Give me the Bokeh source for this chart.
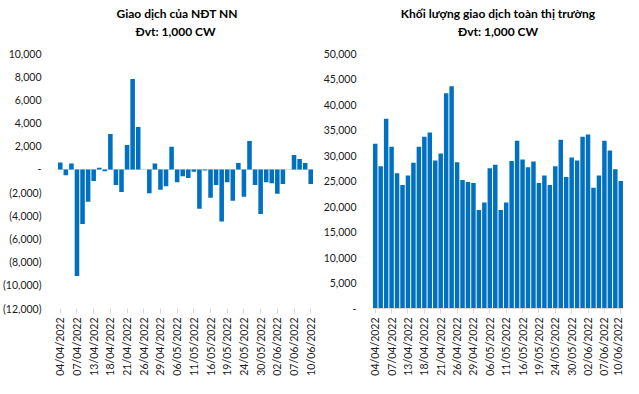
import math
from bokeh.plotting import figure
from bokeh.layouts import row
from bokeh.models import Range1d, FixedTicker, Span, Title, ColumnDataSource
from bokeh.embed import file_html
from bokeh.resources import INLINE

# ---- data -------------------------------------------------------------
dates = [
    "04/04/2022", "05/04/2022", "06/04/2022", "07/04/2022", "08/04/2022",
    "12/04/2022", "13/04/2022", "14/04/2022", "15/04/2022", "18/04/2022",
    "19/04/2022", "20/04/2022", "21/04/2022", "22/04/2022", "25/04/2022",
    "26/04/2022", "27/04/2022", "28/04/2022", "29/04/2022", "04/05/2022",
    "05/05/2022", "06/05/2022", "09/05/2022", "10/05/2022", "11/05/2022",
    "12/05/2022", "13/05/2022", "16/05/2022", "17/05/2022", "18/05/2022",
    "19/05/2022", "20/05/2022", "23/05/2022", "24/05/2022", "25/05/2022",
    "26/05/2022", "30/05/2022", "31/05/2022", "01/06/2022", "02/06/2022",
    "03/06/2022", "06/06/2022", "07/06/2022", "08/06/2022", "09/06/2022",
    "10/06/2022",
]

# Foreign investors' net trading (1,000 CW)
foreign_net = [
    600, -500, 500, -9200, -4700, -2800, -1000, 150, -150, 3050,
    -1350, -1950, 2100, 7800, 3650, 0, -2050, 500, -1750, -1450,
    1950, -1100, -600, -750, -200, -3400, -100, -2450, -1350, -4500,
    -1100, -2700, 550, -2350, 2450, -1350, -3850, -1100, -1200, -2100,
    -1250, 0, 1250, 900, 550, -1250,
]

# Whole-market trading volume (1,000 CW)
market_volume = [
    32300, 27900, 37200, 31700, 26500, 24200, 26100, 28600, 31700, 33700,
    34500, 29000, 30400, 42200, 43600, 28700, 25200, 24800, 24600, 19300,
    20800, 27500, 28200, 19300, 20800, 28900, 32900, 29200, 27700, 28800,
    24600, 26100, 24200, 27900, 33100, 25800, 29600, 29000, 33700, 34100,
    23700, 26100, 32900, 31000, 27300, 25000,
]

left_title = ["Giao dịch của NĐT NN", "Đvt: 1,000 CW"]
right_title = ["Khối lượng giao dịch toàn thị trường", "Đvt: 1,000 CW"]
left_yticks = list(range(-12000, 10001, 2000))
right_yticks = list(range(0, 50001, 5000))
label_step = 3

# ---- styling ----------------------------------------------------------
BAR = "#0070C0"
FONT = "Lato"
TICK_SIZE = "10.5px"
TITLE_SIZE = "12px"


def acct(v):
    if v == 0:
        return "-"
    if v < 0:
        return "({:,})".format(-v)
    return "{:,}".format(v)


idx = list(range(len(dates)))
xticks = idx[::label_step]
xlabels = {i: dates[i] for i in xticks}


def make(values, yr, yticks, title, width, mb_left, mb_right, talign, zero_axis):
    p = figure(width=width, height=378,
               x_range=Range1d(-0.5, len(dates) - 0.5), y_range=Range1d(*yr),
               output_backend="svg", toolbar_location=None,
               min_border_left=mb_left, min_border_right=mb_right,
               min_border_top=53, min_border_bottom=67)
    p.outline_line_color = None
    p.xgrid.visible = False
    p.ygrid.visible = False
    p.title.visible = False
    src = ColumnDataSource(dict(x=idx, v=values))
    p.vbar(x="x", top="v", bottom=0, width=0.82, source=src,
           fill_color=BAR, line_color=None)

    ya = p.yaxis[0]
    ya.ticker = FixedTicker(ticks=yticks)
    ya.major_label_overrides = {t: acct(t) for t in yticks}
    ya.axis_line_color = None
    ya.major_tick_line_color = None
    ya.minor_tick_line_color = None
    ya.major_label_standoff = 10
    ya.major_label_text_font = FONT
    ya.major_label_text_font_size = TICK_SIZE
    ya.major_label_text_color = "#1a1a1a"

    xa = p.xaxis[0]
    xa.ticker = FixedTicker(ticks=xticks)
    xa.major_label_overrides = xlabels
    xa.major_label_orientation = math.pi / 2
    xa.axis_line_color = "#D9D9D9" if zero_axis else None
    xa.major_tick_line_color = "#D9D9D9"
    xa.major_tick_in = 0
    xa.major_tick_out = 5
    xa.minor_tick_line_color = None
    xa.major_label_standoff = 4
    xa.major_label_text_font = FONT
    xa.major_label_text_font_size = TICK_SIZE
    xa.major_label_text_color = "#1a1a1a"

    if not zero_axis:
        p.add_layout(Span(location=0, dimension="width", line_color="#D9D9D9",
                          line_width=1, level="underlay"))

    # spacer between plot and titles, then second line, then first line
    p.add_layout(Title(text=" ", text_font_size="1px", standoff=12), "above")
    for text, (al, off), so in [(title[1], talign[1], 0), (title[0], talign[0], 2)]:
        p.add_layout(Title(text=text, align=al, offset=off, standoff=so,
                           text_font=FONT, text_font_style="bold",
                           text_font_size=TITLE_SIZE, text_color="black"),
                     "above")
    return p


p1 = make(foreign_net, (-12000, 10000), left_yticks, left_title,
          320, 53, 7, (("left", 59), ("left", 78)), False)
p2 = make(market_volume, (0, 50000), right_yticks, right_title,
          303, 48, 0, (("center", 0), ("center", 0)), True)

layout = row(p1, p2)
open("out.html", "w").write(file_html(layout, INLINE))
